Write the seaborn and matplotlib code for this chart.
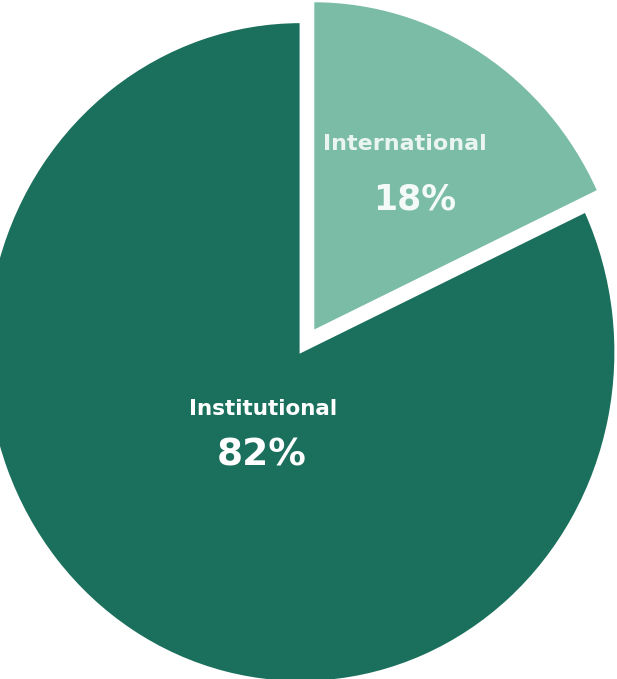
import matplotlib
matplotlib.use("Agg")
import matplotlib.pyplot as plt
import seaborn as sns

categories = ["International", "Institutional"]
shares = [18, 82]
pct_labels = ["18%", "82%"]

sns.set_theme(style="white")
plt.rcParams["font.family"] = ["DejaVu Sans"]

colors = ["#7abca6", "#1a705c"]

W, H = 617, 679
fig = plt.figure(figsize=(W / 100, H / 100), dpi=100)
fig.patch.set_facecolor("white")
ax = fig.add_axes([0, 0, 1, 1])

wedges, _ = ax.pie(
    shares,
    colors=colors,
    startangle=90,
    counterclock=False,
    explode=[0.075, 0.0],
    radius=1.0,
    wedgeprops=dict(edgecolor="white", linewidth=1.5),
)
ax.set_aspect("auto")
ax.set_xlim(-0.955, 1.005)
ax.set_ylim(-0.991, 1.067)
ax.axis("off")


def px(x, y):
    return x / W, 1 - y / H


ax.text(*px(405, 144), categories[0], transform=ax.transAxes, color="#eaf4f0",
        fontsize=16, fontweight="semibold", ha="center", va="center")
ax.text(*px(415, 199), pct_labels[0], transform=ax.transAxes, color="#f4faf8",
        fontsize=25, fontweight="bold", ha="center", va="center")
ax.text(*px(263, 409), categories[1], transform=ax.transAxes, color="white",
        fontsize=15.5, fontweight="bold", ha="center", va="center")
ax.text(*px(262, 455), pct_labels[1], transform=ax.transAxes, color="white",
        fontsize=27, fontweight="bold", ha="center", va="center")

fig.savefig("out.png", dpi=100, facecolor="white")
